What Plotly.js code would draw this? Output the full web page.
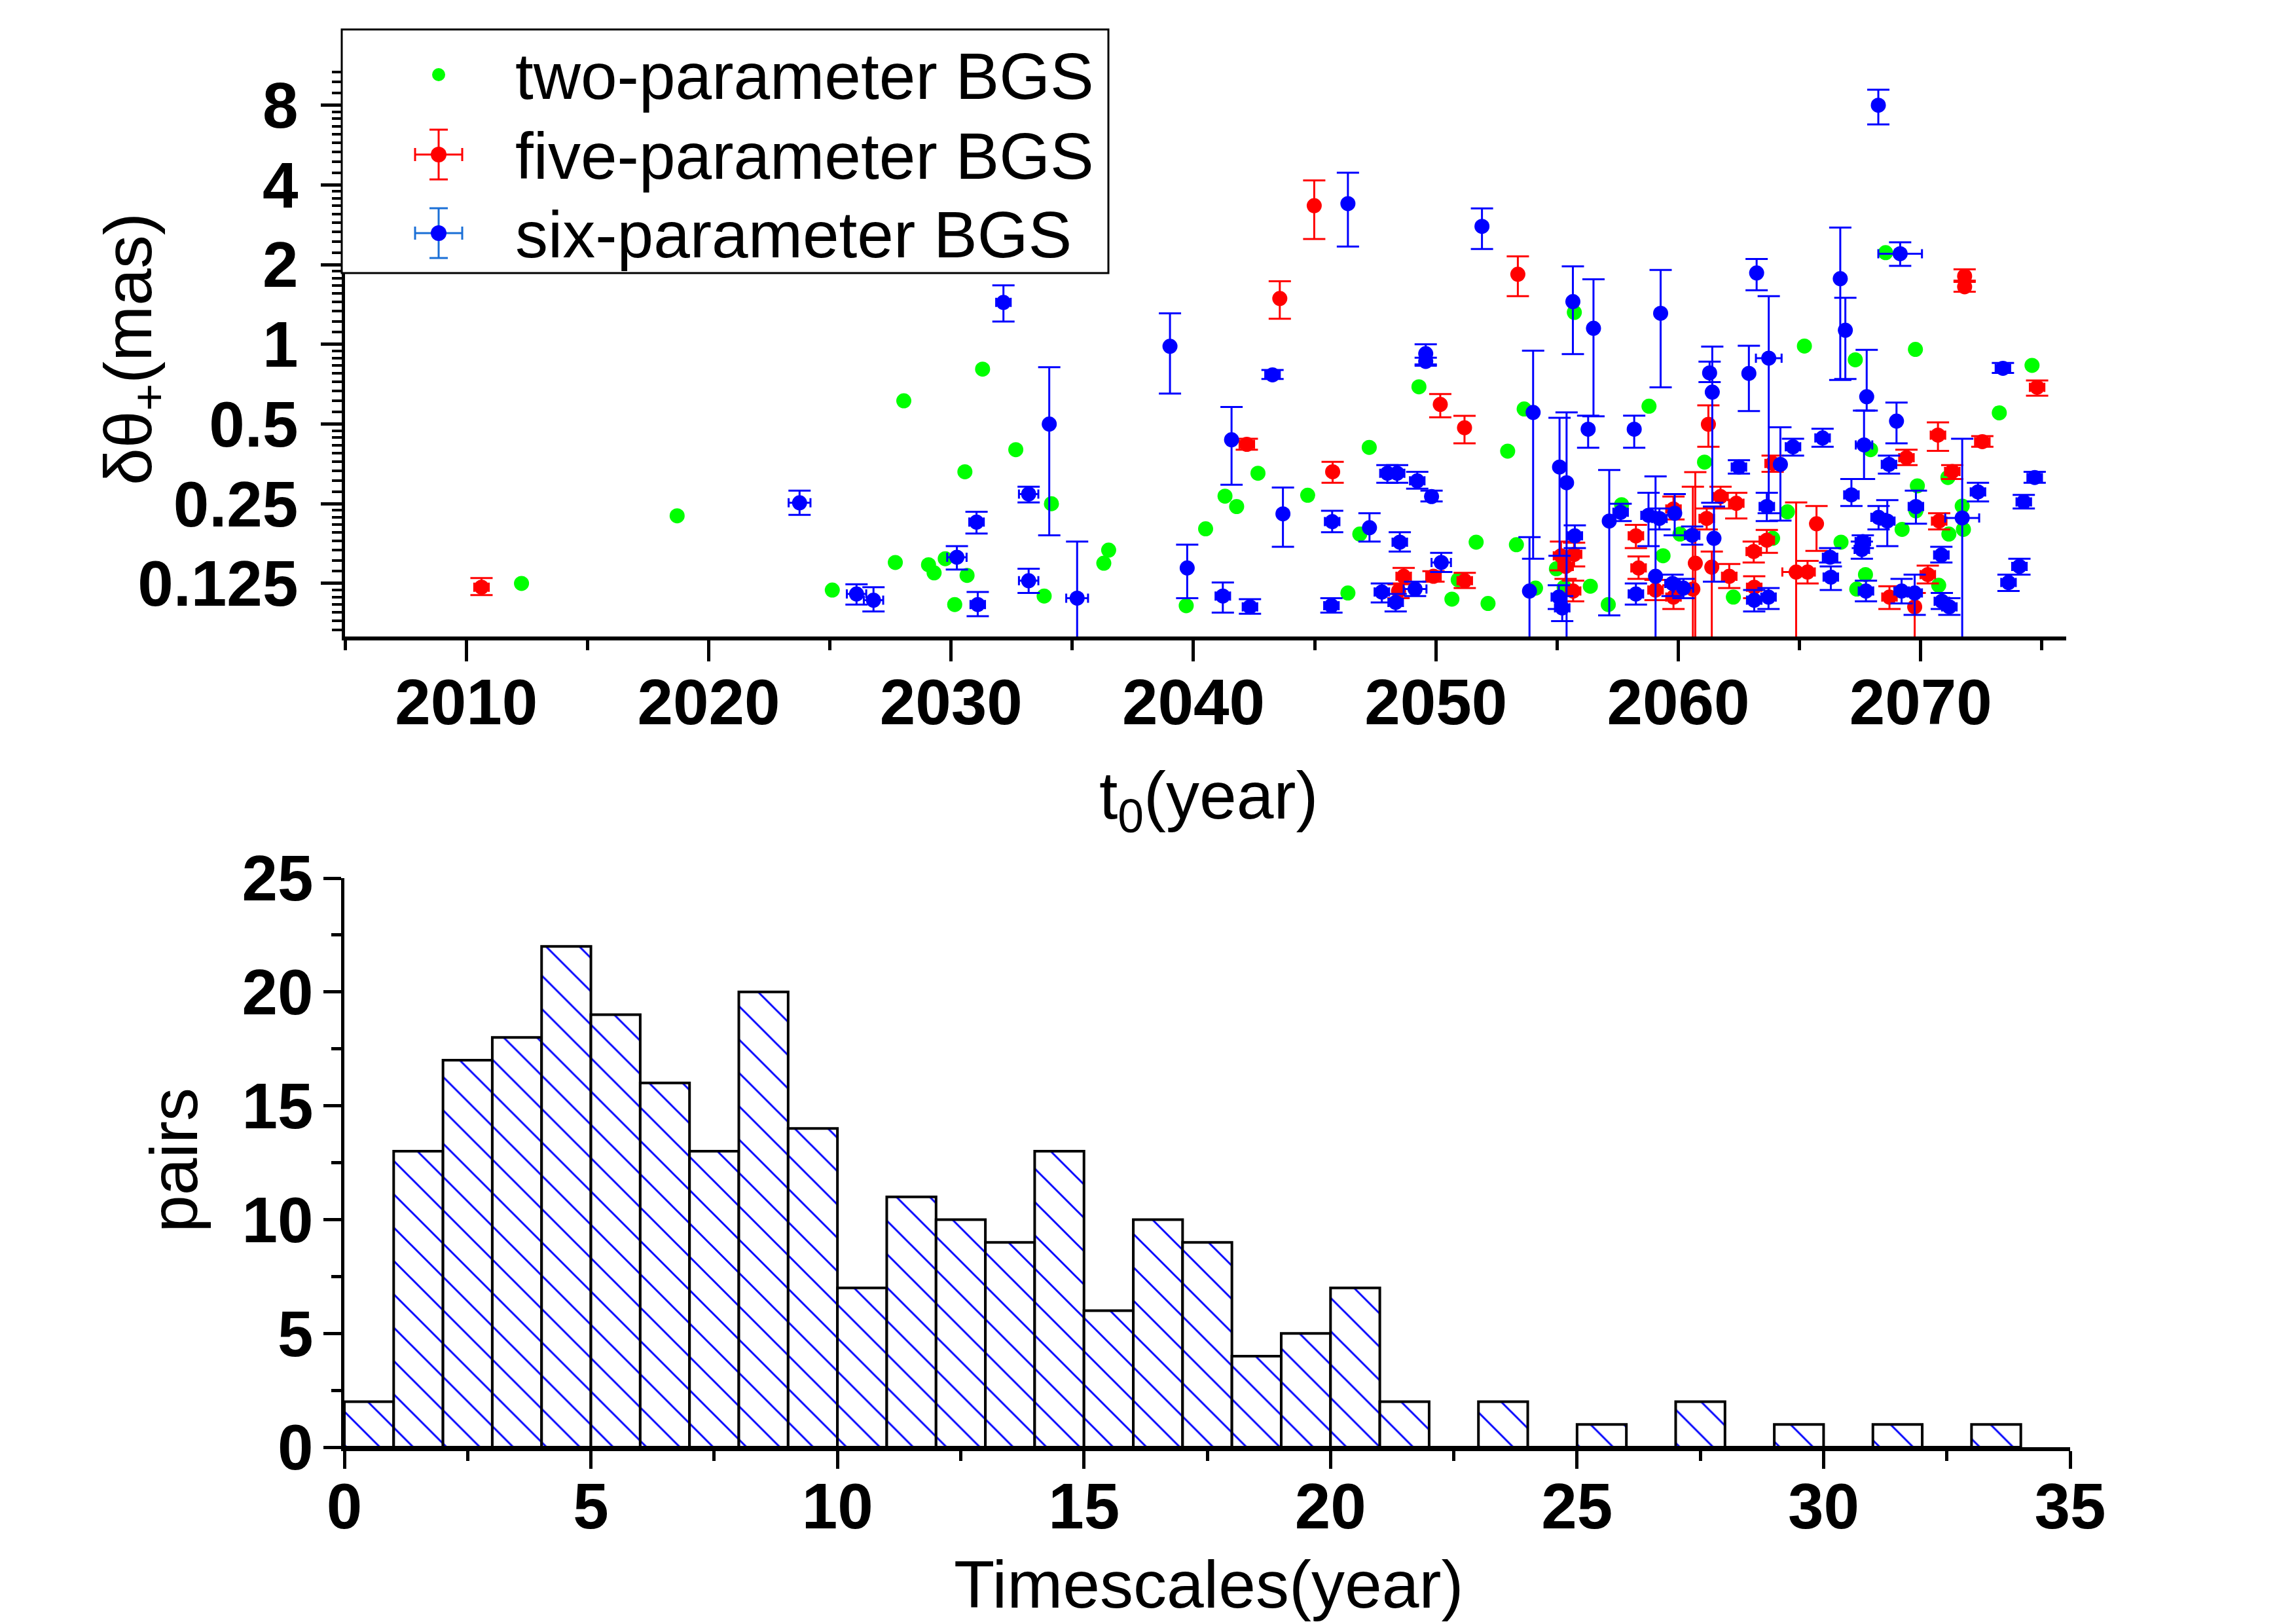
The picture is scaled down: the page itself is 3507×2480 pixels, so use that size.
<!DOCTYPE html>
<html><head><meta charset="utf-8">
<script src="https://cdn.plot.ly/plotly-3.0.1.min.js"></script>
<style>html,body{margin:0;padding:0;background:#fff}</style>
</head><body><div id="chart" style="width:3507px;height:2480px"></div>
<script>
// ---------- two-parameter BGS (no error bars) ----------
const twoT0 = [2012.28,2018.7,2025.1,2027.7,2028.05,2029.07,2029.3,2029.76,2030.15,2030.66,
 2030.57,2031.3,2032.67,2033.84,2034.14,2036.3,2036.5,2039.7,2040.5,2041.3,
 2041.78,2042.66,2044.71,2046.37,2046.86,2047.25,2049.3,2050.66,2050.92,2051.66,
 2052.15,2052.96,2053.32,2053.64,2054.11,2054.97,2055.29,2055.71,2056.37,2057.11,
 2057.66,2058.79,2059.37,2060.07,2061.08,2062.27,2063.89,2064.5,2065.2,2066.71,
 2067.3,2067.36,2067.72,2067.93,2068.55,2069.23,2069.78,2069.86,2069.8,2070.74,
 2071.12,2071.16,2071.71,2071.76,2073.24,2074.59];
const twoVal = [0.125,0.225,0.118,0.150,0.612,0.147,0.137,0.155,0.104,0.134,
 0.33,0.806,0.40,0.112,0.25,0.149,0.167,0.103,0.201,0.267,
 0.244,0.326,0.269,0.115,0.192,0.408,0.691,0.109,0.129,0.179,
 0.105,0.395,0.175,0.570,0.120,0.142,0.121,1.32,0.122,0.104,
 0.248,0.584,0.159,0.192,0.359,0.111,0.185,0.233,0.985,0.179,
 0.874,0.119,0.135,0.40,2.22,0.200,0.957,0.292,0.235,0.123,
 0.314,0.192,0.245,0.200,0.551,0.833];

// ---------- five-parameter BGS ----------
const fiveT0 = [2010.63,2042.2,2043.56,2044.98,2045.74,2048.67,2048.46,2049.9,2050.18,2051.18,
 2051.19,2053.38,2055.16,2055.7,2055.35,2055.66,2058.25,2058.36,2059.06,2059.8,
 2059.8,2060.7,2060.6,2061.24,2061.74,2062.39,2061.17,2061.38,2062.1,2063.11,
 2063.65,2063.89,2063.13,2064.86,2065.33,2065.7,2068.71,2069.41,2069.75,2070.29,
 2070.71,2070.76,2071.3,2071.81,2071.81,2072.54,2074.8];
const fiveVal = [0.121,0.419,1.49,3.34,0.33,0.133,0.117,0.133,0.593,0.484,
 0.128,1.84,0.159,0.161,0.145,0.117,0.189,0.143,0.118,0.239,
 0.111,0.149,0.119,0.499,0.266,0.251,0.220,0.144,0.133,0.165,
 0.182,0.355,0.121,0.138,0.138,0.210,0.111,0.373,0.102,0.135,
 0.454,0.215,0.331,1.81,1.65,0.429,0.688];
const fiveLo = [0.113,0.40,1.25,2.50,0.30,0.125,0.11,0.127,0.53,0.423,
 0.12,1.52,0.14,0.145,0.13,0.107,0.17,0.13,0.108,0.218,
 0.10,0.05,0.05,0.41,0.24,0.22,0.20,0.05,0.12,0.15,
 0.163,0.33,0.11,0.05,0.125,0.166,0.10,0.35,0.05,0.125,
 0.396,0.20,0.31,1.72,1.58,0.41,0.64];
const fiveHi = [0.131,0.44,1.73,4.16,0.36,0.143,0.124,0.139,0.649,0.537,
 0.137,2.15,0.18,0.178,0.16,0.128,0.208,0.158,0.129,0.266,
 0.123,0.329,0.29,0.588,0.29,0.275,0.24,0.165,0.148,0.18,
 0.199,0.38,0.133,0.253,0.152,0.245,0.122,0.40,0.115,0.146,
 0.507,0.23,0.35,1.92,1.74,0.45,0.73];
const fiveXerr = [0.3,0.3,0.15,0.15,0.2,0.3,0.2,0.3,0.2,0.15,
 0.3,0.15,0.3,0.3,0.3,0.3,0.3,0.3,0.3,0.3,
 0.3,0.2,0.2,0.2,0.3,0.3,0.3,0.2,0.3,0.3,
 0.3,0.3,0.3,0.57,0.3,0.1,0.3,0.3,0.2,0.3,
 0.3,0.3,0.3,0.2,0.2,0.3,0.3];

// ---------- six-parameter BGS ----------
const sixT0 = [2023.75,2026.1,2026.8,2030.24,2031.05,2031.1,2032.16,2033.2,2033.2,2034.05,
 2035.2,2039.03,2039.74,2041.57,2041.21,2042.33,2043.26,2043.69,2045.72,2045.69,
 2046.37,2047.26,2048.0,2048.4,2049.23,2049.82,2049.58,2049.58,2048.51,2047.77,
 2048.34,2049.14,2050.22,2051.9,2054.01,2053.86,2055.65,2056.5,2055.1,2055.39,
 2055.73,2055.07,2055.21,2056.28,2058.18,2057.15,2057.62,2058.77,2059.22,2059.06,
 2059.85,2058.25,2059.27,2060.57,2059.76,2060.21,2061.29,2061.4,2061.47,2062.5,
 2062.91,2063.23,2063.73,2063.65,2064.21,2063.13,2063.72,2064.73,2065.95,2066.68,
 2066.89,2067.77,2068.25,2069.15,2073.39,2069.0,2067.66,2068.69,2074.7,2074.25,
 2072.36,2071.71,2069.8,2067.14,2068.26,2068.62,2066.26,2066.29,2067.61,2067.57,
 2067.74,2069.21,2069.75,2070.87,2071.18,2074.07,2073.62,2070.85];
const sixVal = [0.252,0.114,0.108,0.157,0.213,0.104,1.44,0.272,0.128,0.50,
 0.110,0.983,0.143,0.436,0.112,0.102,0.767,0.229,0.214,0.103,
 3.40,0.203,0.326,0.326,0.305,0.266,0.922,0.862,0.179,0.116,
 0.106,0.119,0.150,2.79,0.553,0.117,1.45,1.15,0.344,0.300,
 0.189,0.111,0.101,0.478,0.478,0.215,0.232,0.226,0.220,0.133,
 0.230,0.114,1.31,0.190,0.125,0.120,0.78,0.66,0.185,0.344,
 0.777,1.86,0.887,0.244,0.352,0.108,0.111,0.410,0.443,1.77,
 1.13,0.634,8.0,2.20,0.812,0.513,0.417,0.352,0.314,0.254,
 0.277,0.221,0.244,0.270,0.222,0.215,0.157,0.132,0.180,0.168,
 0.117,0.117,0.115,0.107,0.102,0.145,0.126,0.160];
const sixLo = [0.227,0.104,0.098,0.141,0.193,0.094,1.22,0.253,0.115,0.19,
 0.05,0.652,0.110,0.295,0.097,0.096,0.74,0.172,0.195,0.097,
 2.34,0.18,0.30,0.30,0.285,0.255,0.84,0.83,0.165,0.106,
 0.098,0.112,0.138,2.29,0.155,0.05,0.918,0.535,0.159,0.05,
 0.170,0.10,0.09,0.407,0.407,0.0946,0.215,0.173,0.20,0.05,
 0.19,0.104,0.688,0.175,0.112,0.11,0.72,0.252,0.127,0.325,
 0.56,1.60,0.23,0.215,0.216,0.098,0.10,0.38,0.41,0.733,
 0.74,0.562,6.77,1.98,0.78,0.423,0.31,0.325,0.30,0.24,
 0.255,0.05,0.21,0.245,0.20,0.173,0.15,0.118,0.17,0.155,
 0.107,0.105,0.095,0.10,0.095,0.135,0.117,0.15];
const sixHi = [0.28,0.124,0.121,0.173,0.233,0.116,1.67,0.29,0.142,0.82,
 0.18,1.31,0.175,0.58,0.126,0.109,0.80,0.288,0.235,0.11,
 4.45,0.23,0.35,0.35,0.33,0.28,1.0,0.89,0.195,0.125,
 0.114,0.127,0.163,3.26,0.947,0.187,1.97,1.76,0.528,0.553,
 0.207,0.123,0.112,0.538,0.538,0.335,0.25,0.275,0.24,0.317,
 0.272,0.125,1.91,0.205,0.135,0.13,0.86,0.98,0.244,0.365,
 0.987,2.10,1.52,0.275,0.486,0.118,0.12,0.44,0.48,2.76,
 1.50,0.953,9.16,2.43,0.85,0.603,0.562,0.38,0.33,0.27,
 0.30,0.44,0.28,0.31,0.245,0.258,0.17,0.145,0.19,0.18,
 0.128,0.13,0.135,0.115,0.11,0.155,0.135,0.172];
const sixXerr = [0.45,0.4,0.4,0.4,0.3,0.3,0.3,0.4,0.4,0.15,
 0.45,0.15,0.15,0.15,0.3,0.3,0.3,0.2,0.3,0.3,
 0.15,0.2,0.3,0.3,0.3,0.2,0.15,0.15,0.3,0.3,
 0.3,0.47,0.4,0.15,0.15,0.15,0.15,0.15,0.15,0.15,
 0.3,0.3,0.3,0.15,0.15,0.15,0.3,0.3,0.3,0.15,
 0.15,0.3,0.15,0.3,0.3,0.4,0.2,0.15,0.15,0.3,
 0.15,0.2,0.53,0.3,0.15,0.3,0.3,0.3,0.3,0.15,
 0.15,0.15,0.2,0.9,0.3,0.2,0.34,0.3,0.3,0.3,
 0.3,0.7,0.3,0.3,0.3,0.3,0.3,0.3,0.3,0.3,
 0.3,0.3,0.3,0.3,0.3,0.3,0.3,0.3];

// ---------- histogram of timescales ----------
const binStart = [0,1,2,3,4,5,6,7,8,9,10,11,12,13,14,15,16,17,18,19,20,21,22,23,24,25,26,27,28,29,30,31,32,33];
const pairs    = [2,13,17,18,22,19,16,13,20,14,7,11,10,9,13,6,10,9,4,5,7,2,0,2,0,1,0,2,0,1,0,1,0,1];

// ---------- texts ----------
const seriesNames = ['two-parameter BGS','five-parameter BGS','six-parameter BGS'];
const yTickVals = [0.125,0.25,0.5,1,2,4,8];
const yTickText = ['0.125','0.25','0.5','1','2','4','8'];
const xTickVals = [2010,2020,2030,2040,2050,2060,2070];
const titleTopX = 't<sub>0</sub>(year)';
const titleTopY = '\u03b4\u03b8<sub>+</sub>(mas)';
const titleBotX = 'Timescales(year)';
const titleBotY = 'pairs';

// minor ticks of the log2 axis (8 linear subdivisions per octave)
const yMinor = [];
for (let k = -4; k <= 3; k++) for (let j = 1; j <= 8; j++) yMinor.push(Math.pow(2,k)*(1+j/9));

const W = 3507, H = 2480;
const px = x => x / W, py = y => 1 - y / H;
const FONT = 'Liberation Sans, Arial, Helvetica, sans-serif';
const GREEN = '#00ff00', RED = '#ff0000', BLUE = '#0000ff';
const diff = (a,b) => a.map((v,i) => v - b[i]);

function errTrace(name, t0, val, lo, hi, xe, color) {
  return {
    type:'scatter', mode:'markers', name:name, x:t0, y:val, xaxis:'x', yaxis:'y', showlegend:false,
    marker:{color:color, size:23},
    error_y:{type:'data', symmetric:false, array:diff(hi,val), arrayminus:diff(val,lo), color:color, thickness:3, width:17},
    error_x:{type:'data', array:xe, color:color, thickness:3, width:7}
  };
}

const traces = [
  {type:'scatter', mode:'markers', name:seriesNames[0], x:twoT0, y:twoVal, xaxis:'x', yaxis:'y', showlegend:false,
   marker:{color:GREEN, size:23}},
  errTrace(seriesNames[1], fiveT0, fiveVal, fiveLo, fiveHi, fiveXerr, RED),
  errTrace(seriesNames[2], sixT0, sixVal, sixLo, sixHi, sixXerr, BLUE),
  {type:'bar', x:binStart, y:pairs, offset:0, width:1, xaxis:'x2', yaxis:'y2', showlegend:false,
   marker:{color:'white', line:{color:'black', width:4},
     pattern:{shape:'\\', fgcolor:BLUE, bgcolor:'white', size:36, solidity:0.08, fillmode:'replace'}}}
];

// ---------- legend box (drawn as layout decoration) ----------
const shapes = [];
const annotations = [];
shapes.push({type:'rect', xref:'paper', yref:'paper', x0:px(522), x1:px(1693), y0:py(417), y1:py(45),
  line:{color:'black', width:3}, fillcolor:'white', layer:'above'});
const rowY = [114, 236, 356];
const symX = 670, textX = 785;
const legColors = [GREEN, RED, BLUE];
const legErrColors = [null, RED, '#1a6fd6'];
function seg(x0,y0,x1,y1,c){ shapes.push({type:'line', xref:'paper', yref:'paper', x0:px(x0), y0:py(y0), x1:px(x1), y1:py(y1), line:{color:c, width:3}, layer:'above'}); }
for (let i = 0; i < 3; i++) {
  const cy = rowY[i];
  const ec = legErrColors[i];
  if (ec) {
    seg(symX, cy-38, symX, cy+38, ec);
    seg(symX-14, cy-38, symX+14, cy-38, ec);
    seg(symX-14, cy+38, symX+14, cy+38, ec);
    seg(symX-36, cy, symX+36, cy, ec);
    seg(symX-36, cy-10, symX-36, cy+10, ec);
    seg(symX+36, cy-10, symX+36, cy+10, ec);
  }
  const r = i === 0 ? 10 : 12;
  shapes.push({type:'circle', xref:'paper', yref:'paper', x0:px(symX-r), x1:px(symX+r), y0:py(cy+r), y1:py(cy-r),
    fillcolor:legColors[i], line:{width:0}, layer:'above'});
  annotations.push({xref:'paper', yref:'paper', x:px(textX), y:py(cy+2), xanchor:'left', yanchor:'middle',
    text:seriesNames[i], showarrow:false, font:{family:FONT, size:100, color:'black'}});
}

// ---------- axis titles ----------
const titleFont = {family:FONT, size:102, color:'black'};
annotations.push({xref:'paper', yref:'paper', x:px(1846), y:py(1222), xanchor:'center', yanchor:'middle',
  text:titleTopX, showarrow:false, font:titleFont});
annotations.push({xref:'paper', yref:'paper', x:px(203), y:py(533), xanchor:'center', yanchor:'middle',
  text:titleTopY, showarrow:false, textangle:-90, font:titleFont});
annotations.push({xref:'paper', yref:'paper', x:px(1846), y:py(2420), xanchor:'center', yanchor:'middle',
  text:titleBotX, showarrow:false, font:titleFont});
annotations.push({xref:'paper', yref:'paper', x:px(266), y:py(1772), xanchor:'center', yanchor:'middle',
  text:titleBotY, showarrow:false, textangle:-90, font:titleFont});

const tickFont = {family:FONT, size:98, color:'black', weight:'bold'};

const layout = {
  width:W, height:H, margin:{l:0,r:0,t:0,b:0},
  paper_bgcolor:'white', plot_bgcolor:'white',
  showlegend:false, shapes:shapes, annotations:annotations,
  xaxis:{domain:[px(527), px(3156)], anchor:'y', range:[2005,2076],
    tickmode:'array', tickvals:xTickVals, ticks:'outside', ticklen:32, tickwidth:5, tickcolor:'black',
    showline:true, linewidth:6, linecolor:'black', showgrid:false, zeroline:false, mirror:false,
    tickfont:tickFont, ticklabelstandoff:-22,
    minor:{tickmode:'linear', tick0:2005, dtick:5, ticks:'outside', ticklen:15, tickwidth:5, tickcolor:'black', showgrid:false},
    automargin:false},
  yaxis:{domain:[py(972), py(105)], anchor:'x', type:'log', range:[-1.1036, 1.0409],
    tickmode:'array', tickvals:yTickVals, ticktext:yTickText, ticks:'outside', ticklen:32, tickwidth:5, tickcolor:'black',
    showline:true, linewidth:5, linecolor:'black', showgrid:false, zeroline:false,
    tickfont:tickFont, ticklabelstandoff:15,
    minor:{tickmode:'array', tickvals:yMinor, ticks:'outside', ticklen:15, tickwidth:4, tickcolor:'black', showgrid:false},
    automargin:false},
  xaxis2:{domain:[px(526), px(3162)], anchor:'y2', range:[0,35],
    tickmode:'linear', tick0:0, dtick:5, ticks:'outside', ticklen:27, tickwidth:5, tickcolor:'black',
    showline:true, linewidth:6, linecolor:'black', showgrid:false, zeroline:false,
    tickfont:tickFont, ticklabelstandoff:-27,
    minor:{tick0:0, dtick:2.5, ticks:'outside', ticklen:15, tickwidth:5, tickcolor:'black', showgrid:false},
    automargin:false},
  yaxis2:{domain:[py(2210), py(1341)], anchor:'x2', range:[0,25],
    tickmode:'linear', tick0:0, dtick:5, ticks:'outside', ticklen:27, tickwidth:5, tickcolor:'black',
    showline:true, linewidth:5, linecolor:'black', showgrid:false, zeroline:false,
    tickfont:tickFont, ticklabelstandoff:-4,
    minor:{tick0:0, dtick:2.5, ticks:'outside', ticklen:15, tickwidth:5, tickcolor:'black', showgrid:false},
    automargin:false}
};

Plotly.newPlot('chart', traces, layout, {staticPlot:true, displayModeBar:false});
</script></body></html>
